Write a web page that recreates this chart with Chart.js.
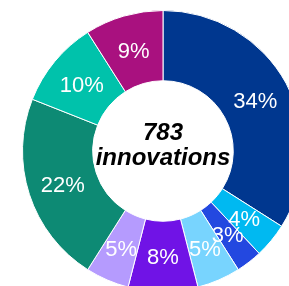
<!DOCTYPE html>
<html>
<head>
<meta charset="utf-8">
<script src="https://cdn.jsdelivr.net/npm/chart.js@4/dist/chart.umd.min.js"></script>
<style>
  html, body { margin: 0; padding: 0; background: #fff; overflow: hidden; }
  #wrap { position: absolute; left: 0; top: 0; width: 289px; height: 286px; overflow: hidden; }
</style>
</head>
<body>
<div id="wrap"><canvas id="grafico" width="326" height="302"></canvas></div>
<script>
let categorie = ['A', 'B', 'C', 'D', 'E', 'F', 'G', 'H', 'I'];
let percentuali = [34, 4, 3, 5, 8, 5, 22, 10, 9];
let colori = ['#00378f', '#00b9f1', '#2348e0', '#78d4fe', '#7013e6', '#b59bfe', '#0d8a74', '#00c2ab', '#a9117f'];
let totale = '783';
let etichetta = 'innovations';

// scrive le percentuali dentro ogni fetta
const etichettePlugin = {
    id: 'etichette',
    afterDatasetsDraw(chart) {
        const ctx = chart.ctx;
        const meta = chart.getDatasetMeta(0);
        ctx.save();
        ctx.fillStyle = '#ffffff';
        ctx.font = '22px "Liberation Sans", Arial, sans-serif';
        ctx.textAlign = 'center';
        ctx.textBaseline = 'middle';
        meta.data.forEach(function (arc, i) {
            const p = arc.tooltipPosition();
            ctx.fillText(percentuali[i] + '%', p.x, p.y + 2);
        });
        // testo centrale
        const c = meta.data[0];
        ctx.fillStyle = '#000000';
        ctx.font = 'italic bold 24px "Liberation Sans", Arial, sans-serif';
        ctx.fillText(totale, c.x, c.y - 18);
        ctx.fillText(etichetta, c.x, c.y + 7);
        ctx.restore();
    }
};

var ctx = document.getElementById('grafico');
var myChart = new Chart(ctx, {
    type: 'doughnut',
    data: {
        labels: categorie,
        datasets: [{
            data: percentuali,
            backgroundColor: colori,
            borderColor: '#ffffff',
            borderWidth: 1
        }]
    },
    options: {
        responsive: false,
        animation: false,
        cutout: '50%',
        layout: { padding: 10 },
        plugins: {
            legend: { display: false },
            tooltip: { enabled: false }
        }
    },
    plugins: [etichettePlugin]
});
</script>
</body>
</html>
